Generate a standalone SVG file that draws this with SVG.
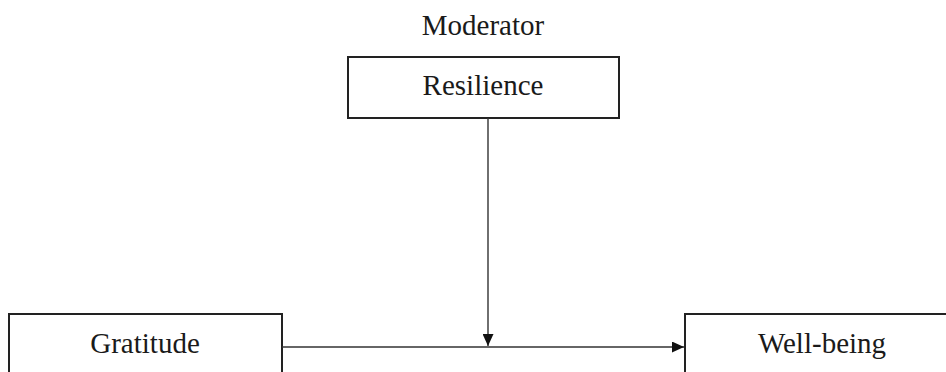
<svg xmlns="http://www.w3.org/2000/svg" width="946" height="372" viewBox="0 0 946 372">
<defs>
<style>
.box{fill:#fff;stroke:#222;stroke-width:2}
.lbl{font-family:"Liberation Serif","Times New Roman",serif;font-size:29px;fill:#1a1a1a;text-anchor:middle}
.conn{stroke:#333;stroke-width:1.4;fill:none}
</style>
<marker id="ah" viewBox="0 0 12 11" refX="12" refY="5.5" markerWidth="12" markerHeight="11" markerUnits="userSpaceOnUse" orient="auto">
<path d="M0,0 L12,5.5 L0,11 Z" fill="#111"/>
</marker>
</defs>
<rect width="946" height="372" fill="#fff"/>
<text class="lbl" x="483" y="35">Moderator</text>
<g id="resilience">
<rect class="box" x="348" y="57" width="271" height="61"/>
<text class="lbl" x="483" y="95">Resilience</text>
</g>
<g id="gratitude">
<rect class="box" x="9" y="314" width="273" height="70"/>
<text class="lbl" x="145" y="353">Gratitude</text>
</g>
<g id="wellbeing">
<rect class="box" x="685" y="314" width="280" height="70"/>
<text class="lbl" x="822" y="353">Well-being</text>
</g>
<g id="connectors">
<line class="conn" x1="282" y1="347" x2="684" y2="347" marker-end="url(#ah)"/>
<line class="conn" x1="488" y1="118" x2="488" y2="346" marker-end="url(#ah)"/>
</g>
</svg>
